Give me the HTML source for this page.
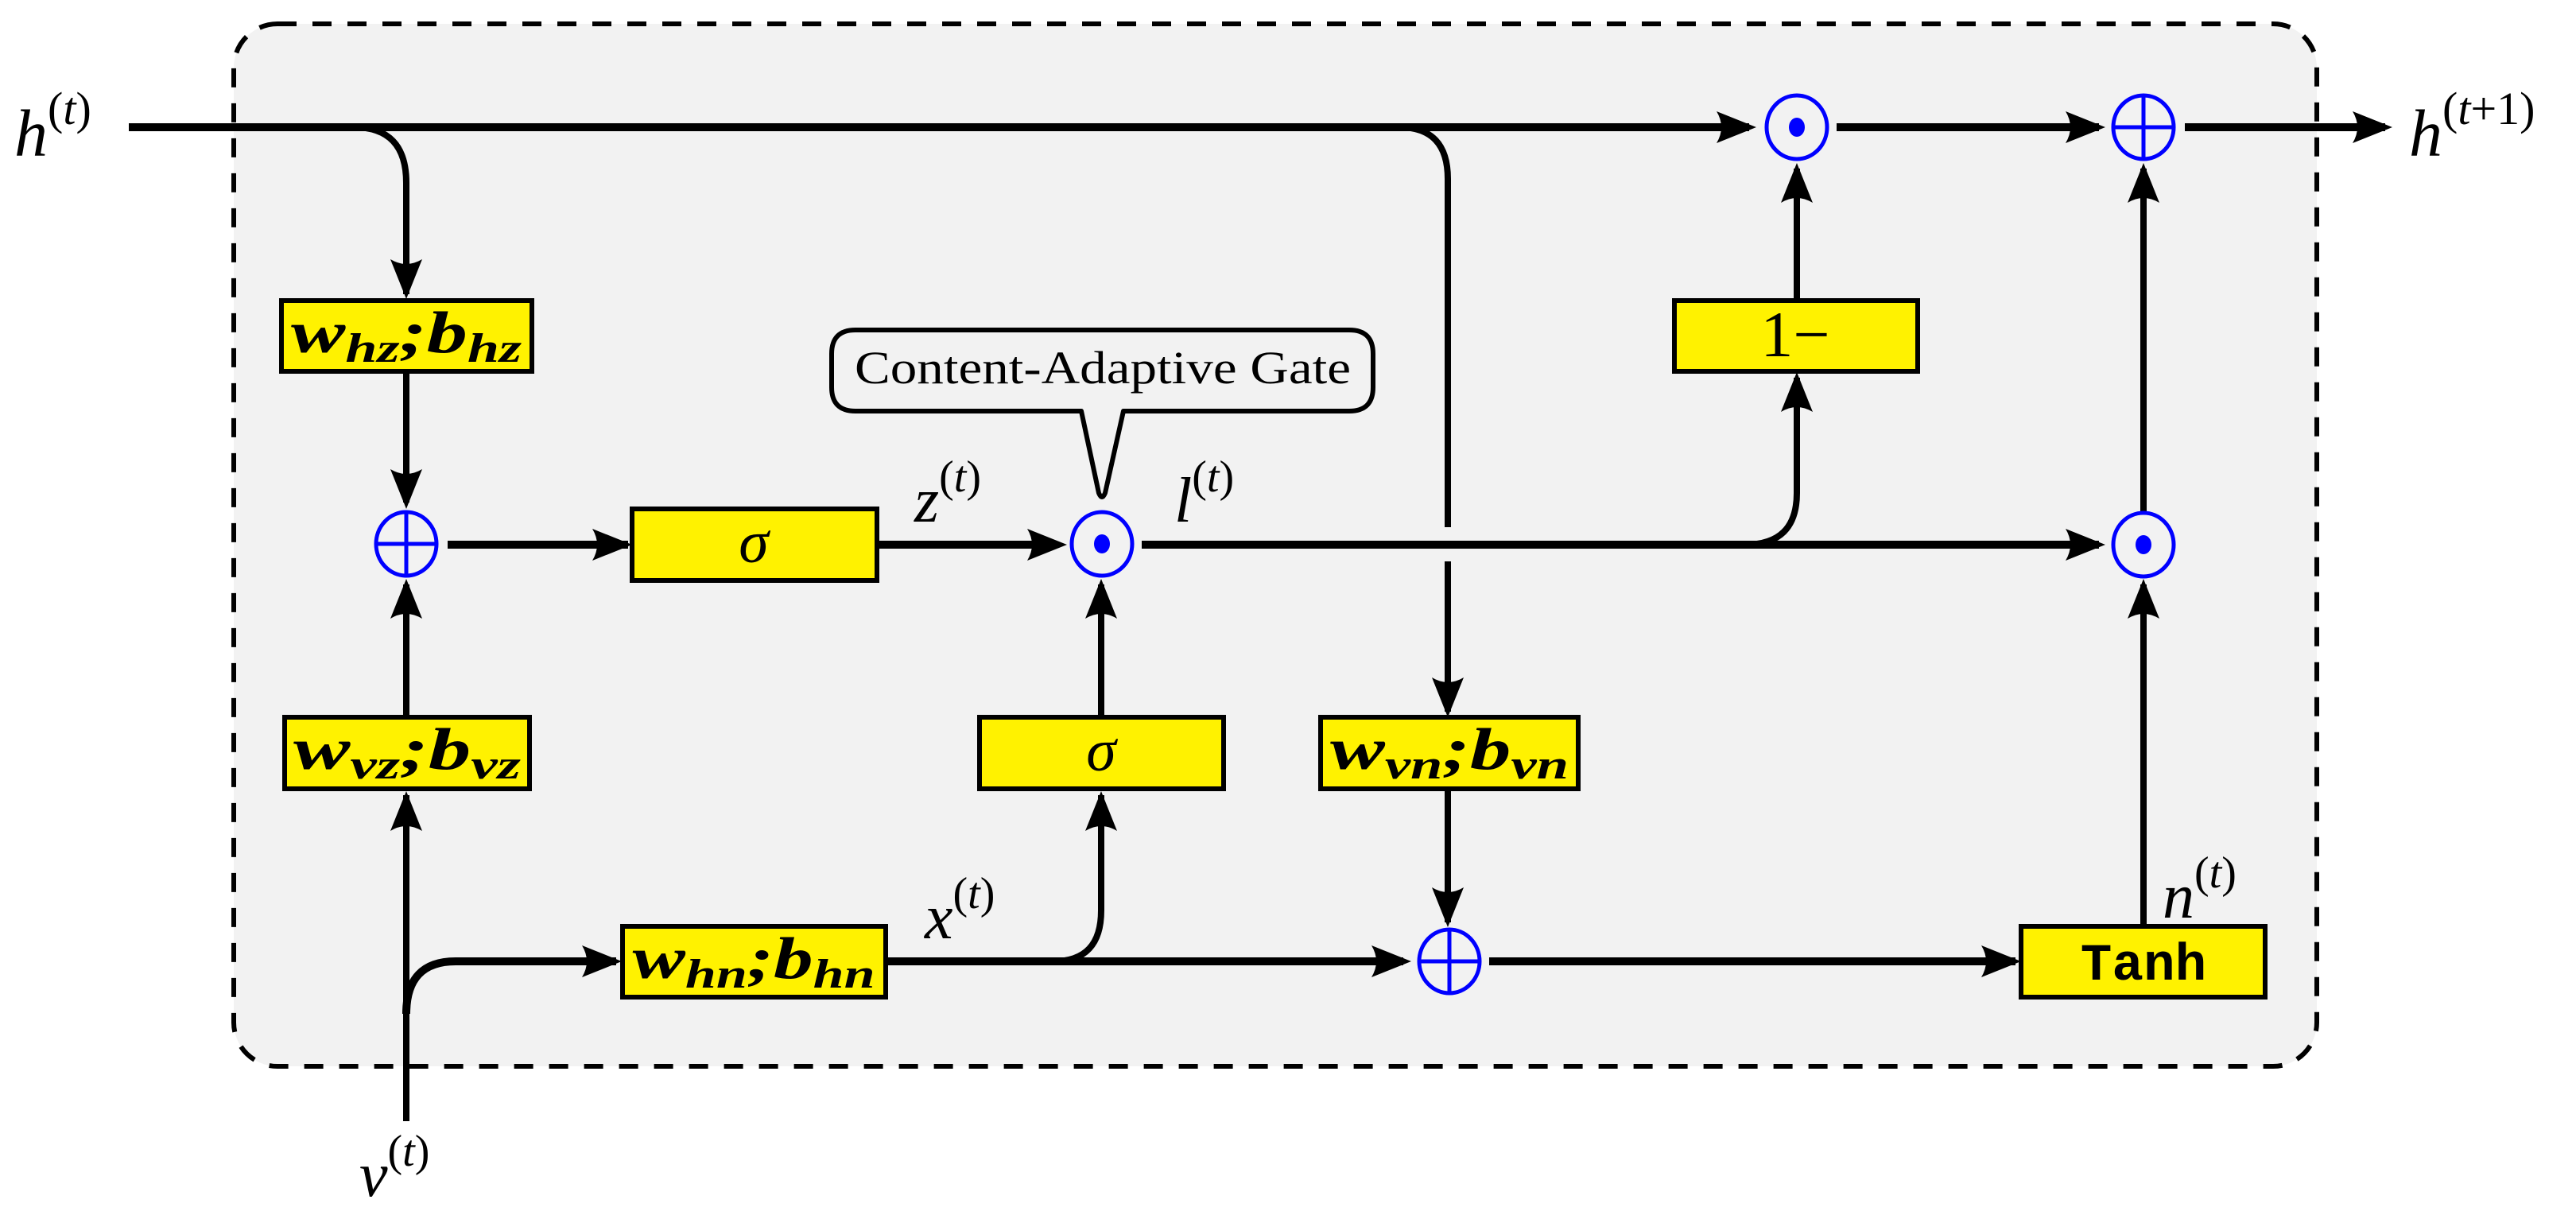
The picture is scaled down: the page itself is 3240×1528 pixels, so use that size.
<!DOCTYPE html>
<html><head><meta charset="utf-8"><style>
html,body{margin:0;padding:0;background:#fff;}
svg{display:block;}
.m{font-family:"Liberation Serif",serif;font-style:italic;}
.b{font-family:"Liberation Serif",serif;font-style:italic;font-weight:bold;}
</style></head><body>
<svg width="3240" height="1528" viewBox="0 0 3240 1528" xmlns="http://www.w3.org/2000/svg">
<defs>
<path id="ar" d="M0,0 L-50,-20 Q-38,0 -50,20 Z" fill="#000"/>
</defs>
<rect x="294" y="30" width="2620" height="1311" rx="55" ry="55" fill="#f2f2f2" stroke="#000" stroke-width="6" stroke-dasharray="24,20"/>

<g fill="none" stroke="#000" stroke-linecap="butt">
<path d="M162,160 H2200" stroke-width="10"/>
<path d="M2310,160 H2640" stroke-width="10"/>
<path d="M2748,160 H3000" stroke-width="10"/>
<path d="M445,160 Q511,160 511,230 V370" stroke-width="8"/>
<path d="M511,467 V632" stroke-width="8"/>
<path d="M1760,160 Q1821,160 1821,225 V663" stroke-width="8"/>
<path d="M1821,706 V895" stroke-width="8"/>
<path d="M1821,992 V1160" stroke-width="8"/>
<path d="M563,685 H790" stroke-width="10"/>
<path d="M1103,685 H1300" stroke-width="10"/>
<path d="M1436,685 H2640" stroke-width="10"/>
<path d="M2195,685 Q2260,685 2260,620 V475" stroke-width="8"/>
<path d="M2260,378 V212" stroke-width="8"/>
<path d="M511,902 V735" stroke-width="8"/>
<path d="M511,1410 V1000" stroke-width="8"/>
<path d="M511,1275 Q511,1209 573,1209 H775" stroke-width="10"/>
<path d="M1114,1209 H1765" stroke-width="10"/>
<path d="M1325,1209 Q1385,1209 1385,1145 V1000" stroke-width="8"/>
<path d="M1385,902 V735" stroke-width="8"/>
<path d="M1873,1209 H2535" stroke-width="10"/>
<path d="M2696,1165 V735" stroke-width="8"/>
<path d="M2696,643 V212" stroke-width="8"/>
</g>

<use href="#ar" transform="translate(511,376) rotate(90)"/>
<use href="#ar" transform="translate(511,640) rotate(90)"/>
<use href="#ar" transform="translate(511,728) rotate(-90)"/>
<use href="#ar" transform="translate(511,995) rotate(-90)"/>
<use href="#ar" transform="translate(795,685)"/>
<use href="#ar" transform="translate(1342,685)"/>
<use href="#ar" transform="translate(1385,728) rotate(-90)"/>
<use href="#ar" transform="translate(1385,995) rotate(-90)"/>
<use href="#ar" transform="translate(782,1209)"/>
<use href="#ar" transform="translate(1775,1209)"/>
<use href="#ar" transform="translate(2542,1209)"/>
<use href="#ar" transform="translate(1821,902) rotate(90)"/>
<use href="#ar" transform="translate(1821,1166) rotate(90)"/>
<use href="#ar" transform="translate(2209,160)"/>
<use href="#ar" transform="translate(2648,160)"/>
<use href="#ar" transform="translate(3009,160)"/>
<use href="#ar" transform="translate(2648,685)"/>
<use href="#ar" transform="translate(2260,205) rotate(-90)"/>
<use href="#ar" transform="translate(2260,468) rotate(-90)"/>
<use href="#ar" transform="translate(2696,205) rotate(-90)"/>
<use href="#ar" transform="translate(2696,728) rotate(-90)"/>

<g fill="none" stroke="#0000ff" stroke-width="5">
<ellipse cx="511" cy="684" rx="38" ry="40"/>
<path d="M473,684 H549 M511,644 V724"/>
<ellipse cx="1386" cy="684" rx="38" ry="40"/>
<ellipse cx="2260" cy="160" rx="38" ry="40"/>
<ellipse cx="2696" cy="160" rx="38" ry="40"/>
<path d="M2658,160 H2734 M2696,120 V200"/>
<ellipse cx="2696" cy="685" rx="38" ry="40"/>
<ellipse cx="1823" cy="1209" rx="38" ry="40"/>
<path d="M1785,1209 H1861 M1823,1169 V1249"/>
</g>
<g fill="#0000ff">
<ellipse cx="1386" cy="684" rx="10" ry="12"/>
<ellipse cx="2260" cy="160" rx="10" ry="12"/>
<ellipse cx="2696" cy="685" rx="10" ry="12"/>
</g>

<g fill="#fff200" stroke="#000" stroke-width="6">
<rect x="354" y="378" width="315" height="89"/>
<rect x="795" y="640" width="308" height="90"/>
<rect x="358" y="902" width="308" height="90"/>
<rect x="1232" y="902" width="307" height="90"/>
<rect x="783" y="1165" width="331" height="89"/>
<rect x="1661" y="902" width="324" height="90"/>
<rect x="2106" y="378" width="306" height="89"/>
<rect x="2542" y="1165" width="307" height="89"/>
</g>

<g class="b" font-size="74" fill="#000" text-anchor="middle">
<text x="511" y="443" textLength="290" lengthAdjust="spacingAndGlyphs">w<tspan font-size="52" dy="12">hz</tspan><tspan dy="-12">;b</tspan><tspan font-size="52" dy="12">hz</tspan></text>
<text x="512" y="967" textLength="286" lengthAdjust="spacingAndGlyphs">w<tspan font-size="52" dy="12">vz</tspan><tspan dy="-12">;b</tspan><tspan font-size="52" dy="12">vz</tspan></text>
<text x="948" y="1230" textLength="305" lengthAdjust="spacingAndGlyphs">w<tspan font-size="52" dy="12">hn</tspan><tspan dy="-12">;b</tspan><tspan font-size="52" dy="12">hn</tspan></text>
<text x="1823" y="967" textLength="300" lengthAdjust="spacingAndGlyphs">w<tspan font-size="52" dy="12">vn</tspan><tspan dy="-12">;b</tspan><tspan font-size="52" dy="12">vn</tspan></text>
</g>
<g class="m" font-size="76" fill="#000" text-anchor="middle">
<text x="948" y="707">σ</text>
<text x="1385" y="969">σ</text>
</g>
<text x="2258" y="448" font-family="Liberation Serif,serif" font-size="82" text-anchor="middle">1−</text>
<text x="2696" y="1232" font-family="Liberation Mono,monospace" font-weight="bold" font-size="66" text-anchor="middle">Tanh</text>

<path d="M1076,415 H1697 Q1727,415 1727,445 V487 Q1727,517 1697,517 H1413 L1390,620 Q1386,630 1382,620 L1360,517 H1076 Q1046,517 1046,487 V445 Q1046,415 1076,415 Z" fill="#f2f2f2" stroke="#000" stroke-width="6" stroke-linejoin="round"/>
<text x="1075" y="482" font-family="Liberation Serif,serif" font-size="58" textLength="624" lengthAdjust="spacingAndGlyphs">Content-Adaptive Gate</text>

<g class="m" fill="#000">
<text x="18" y="196" font-size="84">h<tspan font-size="58" dy="-40" font-style="normal">(</tspan><tspan font-size="58">t</tspan><tspan font-size="58" font-style="normal">)</tspan></text>
<text x="3030" y="196" font-size="84">h<tspan font-size="58" dy="-40" font-style="normal">(</tspan><tspan font-size="58">t</tspan><tspan font-size="58" font-style="normal">+1)</tspan></text>
<text x="1150" y="656" font-size="80">z<tspan font-size="56" dy="-38" font-style="normal">(</tspan><tspan font-size="56">t</tspan><tspan font-size="56" font-style="normal">)</tspan></text>
<text x="1477" y="656" font-size="80">l<tspan font-size="56" dy="-38" font-style="normal">(</tspan><tspan font-size="56">t</tspan><tspan font-size="56" font-style="normal">)</tspan></text>
<text x="1163" y="1180" font-size="80">x<tspan font-size="56" dy="-38" font-style="normal">(</tspan><tspan font-size="56">t</tspan><tspan font-size="56" font-style="normal">)</tspan></text>
<text x="2720" y="1154" font-size="80">n<tspan font-size="56" dy="-38" font-style="normal">(</tspan><tspan font-size="56">t</tspan><tspan font-size="56" font-style="normal">)</tspan></text>
<text x="452" y="1504" font-size="80">v<tspan font-size="56" dy="-38" font-style="normal">(</tspan><tspan font-size="56">t</tspan><tspan font-size="56" font-style="normal">)</tspan></text>
</g>
</svg>
</body></html>
